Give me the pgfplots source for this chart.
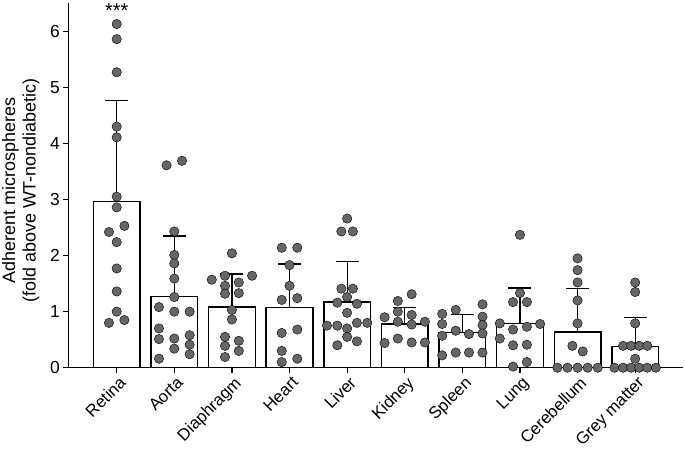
\documentclass[border=0pt]{standalone}
\usepackage{pgfplots}
\pgfplotsset{compat=1.18}
\usepackage{fontspec}
\setmainfont{Liberation Sans}
\definecolor{dotgray}{RGB}{102,102,102}
\newcommand{\lblfont}{\fontsize{17.5}{20}\selectfont}
\newcommand{\xlblfont}{\fontsize{16.8}{19}\selectfont}
\newcommand{\ylblfont}{\fontsize{18}{20.5}\selectfont}
\begin{document}
\begin{tikzpicture}
\useasboundingbox (0,0) rectangle (685bp,449bp);
\begin{axis}[
  at={(68.3bp,81.3bp)}, anchor=south west,
  scale only axis, width=614.7bp, height=364.4bp,
  xmin=-0.84, xmax=9.83, ymin=0, ymax=6.5,
  axis x line*=bottom, axis y line*=left,
  axis line style={line width=1.4bp, black},
  xtick={0,...,9},
  xticklabels={Retina,Aorta,Diaphragm,Heart,Liver,Kidney,Spleen,Lung,Cerebellum,Grey matter},
  ytick={0,...,6},
  tick align=outside, major tick length=5bp,
  tick style={line width=1.2bp, black},
  x tick label style={rotate=45, anchor=north east, font=\xlblfont, xshift=2.5bp, yshift=0.5bp},
  y tick label style={font=\lblfont},
  /pgf/number format/assume math mode=true,
  ylabel={Adherent microspheres\\(fold above WT-nondiabetic)},
  ylabel style={align=center, font=\ylblfont, yshift=4bp, xshift=-5bp},
  clip=false,
]
\addplot[ybar, bar width=0.81, bar shift=0pt, fill=white, draw=black, line width=1.4bp,
  error bars/.cd, y dir=plus, y explicit,
  error bar style={line width=1.2bp, black},
  error mark options={line width=1.2bp, black, mark size=11.5bp, rotate=90}]
coordinates {
(0,2.96) +- (0,1.81)
(1,1.27) +- (0,1.08)
(2,1.08) +- (0,0.59)
(3,1.07) +- (0,0.78)
(4,1.17) +- (0,0.72)
(5,0.78) +- (0,0.30)
(6,0.63) +- (0,0.32)
(7,0.79) +- (0,0.63)
(8,0.64) +- (0,0.77)
(9,0.38) +- (0,0.51)
};
\addplot[only marks, mark=*, mark size=4.7bp, mark options={draw=none, fill=dotgray}]
table {
x y
0 6.13
0 5.86
0 5.27
0 4.30
0 4.11
0 3.05
0 2.86
-0.134 2.42
0.134 2.53
0 2.24
0 1.77
0 1.36
0 1.00
-0.134 0.80
0.134 0.85
0.866 3.61
1.134 3.69
1 2.43
1 2.01
1 1.86
1 1.59
1 1.26
0.734 1.08
1 1.00
1.266 1.00
0.734 0.70
0.734 0.51
1 0.52
1.266 0.58
1.266 0.41
1 0.34
1.266 0.24
0.734 0.16
2 2.04
1.65 1.57
1.88 1.64
2.35 1.64
1.88 1.46
2.12 1.52
1.88 1.32
2.12 1.33
2 1.03
2 0.86
1.88 0.55
2.12 0.48
1.88 0.39
2.12 0.30
1.88 0.19
2.865 2.14
3.135 2.14
3 1.83
3 1.46
2.865 1.21
3.135 1.24
2.865 0.62
3.135 0.68
2.865 0.30
3.135 0.16
2.865 0.10
4 2.66
3.9 2.43
4.1 2.43
3.9 1.41
4.1 1.41
4 1.26
3.83 1.16
4.17 1.14
4 0.98
3.65 0.75
3.83 0.75
4.17 0.80
4.35 0.80
4 0.70
4 0.55
3.83 0.40
4.17 0.47
5.12 1.31
4.88 1.19
4.88 1.00
5.12 0.94
4.65 0.90
5.35 0.82
4.88 0.82
5.12 0.77
4.65 0.44
4.88 0.52
5.12 0.45
5.35 0.45
5.65 0.96
5.65 0.78
5.65 0.57
5.65 0.22
5.885 1.03
5.885 0.66
5.885 0.27
6.115 0.60
6.115 0.27
6.35 1.13
6.35 0.91
6.35 0.76
6.35 0.61
6.35 0.27
7 2.37
7 1.33
6.88 1.17
7.12 1.17
6.65 0.79
7.35 0.78
6.88 0.68
7.12 0.73
6.65 0.52
6.88 0.40
7.12 0.41
7.12 0.10
6.88 0.02
8 1.95
8 1.74
8 1.52
8 1.20
8 0.79
7.91 0.39
8.09 0.29
7.65 0
7.825 0
8 0
8.175 0
8.35 0
9 1.52
9 1.35
9 0.79
8.79 0.39
8.93 0.39
9.07 0.39
9.21 0.39
9 0.16
8.64 0
8.79 0
8.93 0
9.07 0
9.21 0
9.36 0
};
\node[anchor=base, font=\fontsize{20}{22}\selectfont] at (axis cs:0,6.25) {***};
\end{axis}
\end{tikzpicture}
\end{document}
